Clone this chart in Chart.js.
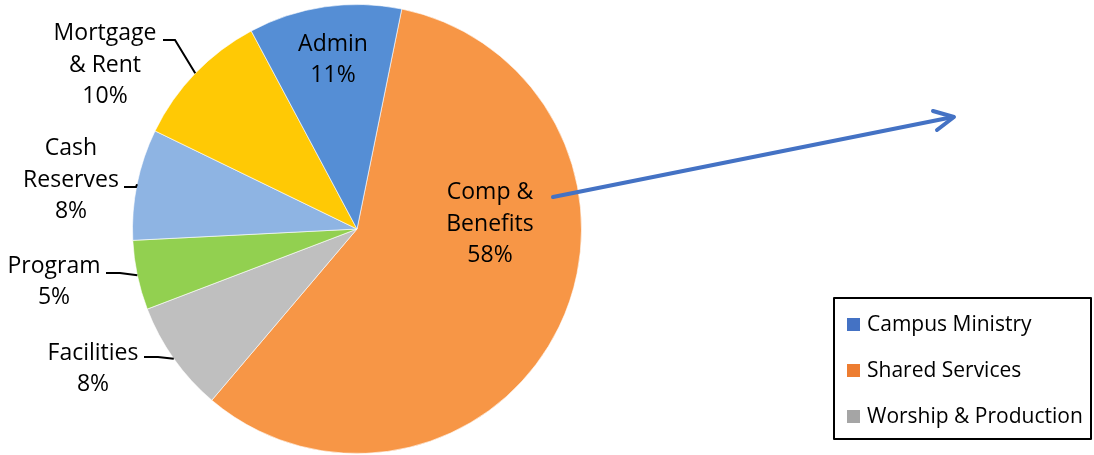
<!DOCTYPE html>
<html>
<head>
<meta charset="utf-8">
<script src="https://cdn.jsdelivr.net/npm/chart.js@4.4.1/dist/chart.umd.min.js"></script>
<style>
  html, body { margin: 0; padding: 0; background: #fff; }
  #wrap { width: 1094px; height: 455px; }
</style>
</head>
<body>
<div id="wrap"><canvas id="pieChart" width="1094" height="455"></canvas></div>
<script>
// datos del gráfico
const categorias = ['Comp & Benefits', 'Facilities', 'Program', 'Cash Reserves', 'Mortgage & Rent', 'Admin'];
const porcentajes = [58, 8, 5, 8, 10, 11];
const colores = ['#F79646', '#BFBFBF', '#92D050', '#8EB4E3', '#FFC905', '#558ED5'];
const leyendaNombres = ['Campus Ministry', 'Shared Services', 'Worship & Production'];
const leyendaColores = ['#4472C4', '#ED7D31', '#A5A5A5'];

const FONT = '"Open Sans", Lato, sans-serif';

// posiciones de etiquetas (centro del texto) y si llevan línea guía
const etiquetas = [
  { lines: ['Comp &', 'Benefits', '58%'], x: 490, y: 224 },
  { lines: ['Facilities', '8%'], x: 93, y: 369, leader: { tx: 144, ty: 357, ex: 158 } },
  { lines: ['Program', '5%'], x: 54, y: 282, leader: { tx: 106, ty: 273, ex: 120 } },
  { lines: ['Cash', 'Reserves', '8%'], x: 71, y: 180, leader: { tx: 124, ty: 187, ex: 136 } },
  { lines: ['Mortgage', '& Rent', '10%'], x: 105, y: 65, leader: { tx: 163, ty: 40, ex: 175 } },
  { lines: ['Admin', '11%'], x: 333, y: 60 }
];

const etiquetasPlugin = {
  id: 'etiquetas',
  afterDatasetsDraw(chart) {
    const ctx = chart.ctx;
    const meta = chart.getDatasetMeta(0);
    ctx.save();
    ctx.font = '23px ' + FONT;
    ctx.fillStyle = '#000';
    ctx.textAlign = 'center';
    ctx.textBaseline = 'middle';
    etiquetas.forEach((et, i) => {
      const lh = 31.5;
      const y0 = et.y - (et.lines.length - 1) * lh / 2;
      et.lines.forEach((l, j) => ctx.fillText(l, et.x, y0 + j * lh));
      if (et.leader) {
        const arc = meta.data[i];
        const mid = (arc.startAngle + arc.endAngle) / 2;
        const px = arc.x + Math.cos(mid) * arc.outerRadius;
        const py = arc.y + Math.sin(mid) * arc.outerRadius;
        ctx.beginPath();
        ctx.strokeStyle = '#000';
        ctx.lineWidth = 2;
        ctx.moveTo(et.leader.tx, et.leader.ty);
        ctx.lineTo(et.leader.ex, et.leader.ty);
        ctx.lineTo(px, py);
        ctx.stroke();
      }
    });

    // flecha
    ctx.strokeStyle = '#4472C4';
    ctx.lineWidth = 4;
    ctx.lineCap = 'round';
    ctx.lineJoin = 'round';
    ctx.beginPath();
    ctx.moveTo(553, 197);
    ctx.lineTo(953, 117);
    ctx.stroke();
    ctx.beginPath();
    ctx.moveTo(933, 111);
    ctx.lineTo(954, 117);
    ctx.lineTo(937, 130);
    ctx.stroke();

    // leyenda
    ctx.lineCap = 'butt';
    ctx.strokeStyle = '#000';
    ctx.lineWidth = 2;
    ctx.strokeRect(834, 298, 257, 141);
    ctx.font = '21px ' + FONT;
    ctx.textAlign = 'left';
    leyendaNombres.forEach((n, i) => {
      const y = 324 + i * 46;
      ctx.fillStyle = leyendaColores[i];
      ctx.fillRect(847, y - 6, 13, 13);
      ctx.fillStyle = '#000';
      ctx.fillText(n, 867, y + 1);
    });
    ctx.restore();
  }
};

new Chart(document.getElementById('pieChart'), {
  type: 'pie',
  data: {
    labels: categorias,
    datasets: [{
      data: porcentajes,
      backgroundColor: colores,
      borderColor: 'rgba(255,255,255,0.6)',
      borderWidth: 1
    }]
  },
  options: {
    responsive: false,
    animation: false,
    rotation: 11.5,
    layout: { padding: { left: 132, right: 512, top: 4, bottom: 1 } },
    plugins: {
      legend: { display: false },
      tooltip: { enabled: false }
    }
  },
  plugins: [etiquetasPlugin]
});
</script>
</body>
</html>
